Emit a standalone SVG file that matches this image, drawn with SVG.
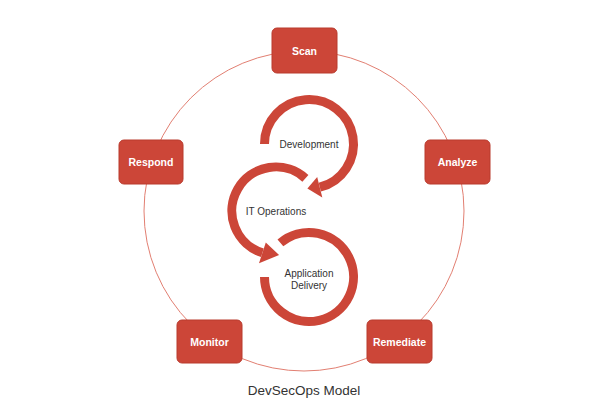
<svg xmlns="http://www.w3.org/2000/svg" width="600" height="412" viewBox="0 0 600 412">
<style>
.box{fill:#cc4638;stroke:#b93a2d;stroke-width:1}
.lbl{font-family:"Liberation Sans",Arial,sans-serif;font-size:10.5px;font-weight:bold;fill:#ffffff;text-anchor:middle}
.arc{fill:none;stroke:#cc4638;stroke-width:9}
.head{fill:#cc4638}
.txt{font-family:"Liberation Sans",Arial,sans-serif;font-size:10px;fill:#333333;text-anchor:middle}
.ring{fill:none;stroke:#e27f72;stroke-width:1}
</style>
<rect width="600" height="412" fill="#ffffff"/>
<g id="connectors">
<circle class="ring" cx="304" cy="211" r="160"/>
</g>
<g id="cycle">
<g id="development">
<path class="arc" d="M 264.5 144 A 44.5 44.5 0 1 1 319.8 187.2"/>
<polygon class="head" points="317.2,177 322.3,197.4 307.4,188.5"/>
<text class="txt" x="309" y="148">Development</text>
</g>
<g id="itops">
<path class="arc" d="M 305.4 178.3 A 44 44 0 1 0 262.4 252.8"/>
<polygon class="head" points="265.8,242.4 259,263.3 279.1,254.9"/>
<text class="txt" x="276" y="215">IT Operations</text>
</g>
<g id="appdelivery">
<path class="arc" d="M 280.4 242.9 A 44.5 44.5 0 1 1 264.5 277"/>
<text class="txt" x="309" y="277" font-size="10.5">Application</text>
<text class="txt" x="309" y="289" font-size="10.5">Delivery</text>
</g>
</g>
<g id="scan">
<rect class="box" x="272" y="28" width="65" height="45" rx="5"/>
<text class="lbl" x="304.5" y="54.5">Scan</text>
</g>
<g id="analyze">
<rect class="box" x="425" y="140" width="65" height="44" rx="5"/>
<text class="lbl" x="457.5" y="166">Analyze</text>
</g>
<g id="remediate">
<rect class="box" x="367" y="320" width="65" height="43" rx="5"/>
<text class="lbl" x="399.5" y="345.5">Remediate</text>
</g>
<g id="monitor">
<rect class="box" x="177" y="320" width="65" height="43" rx="5"/>
<text class="lbl" x="209.5" y="345.5">Monitor</text>
</g>
<g id="respond">
<rect class="box" x="119" y="140" width="64" height="44" rx="5"/>
<text class="lbl" x="151" y="166">Respond</text>
</g>
<text id="title" x="304" y="395" font-family="'Liberation Sans',Arial,sans-serif" font-size="13.5" fill="#333333" text-anchor="middle">DevSecOps Model</text>
</svg>
